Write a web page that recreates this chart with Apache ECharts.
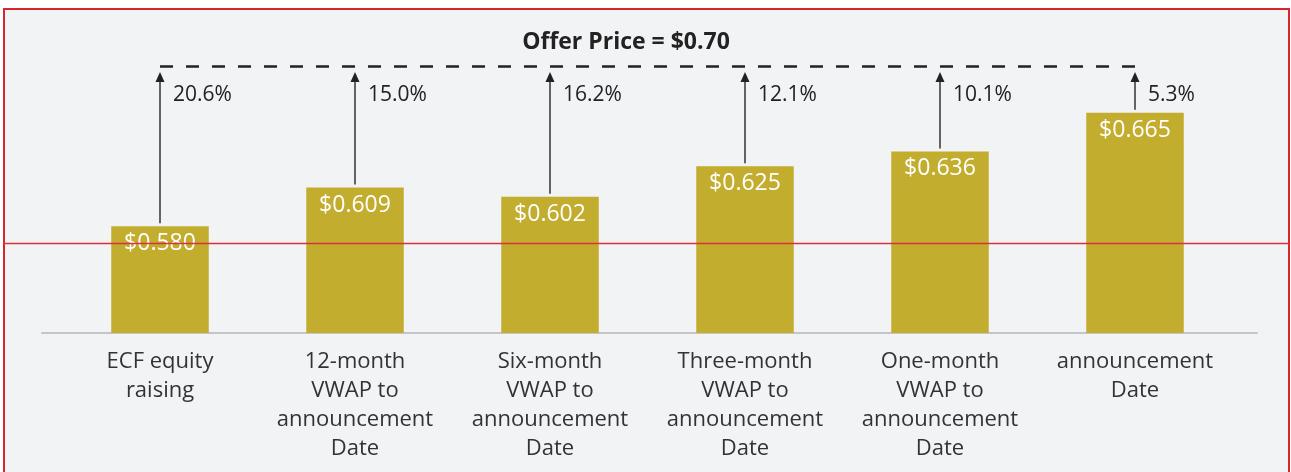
<!DOCTYPE html>
<html>
<head>
<meta charset="utf-8">
<script src="https://cdn.jsdelivr.net/npm/echarts@6/dist/echarts.min.js"></script>
<style>
  body{
    margin: 0;
    background: #fff;
  }
  #frame{
    position: absolute;
    left: 3px;
    top: 8px;
    width: 1287px;
    height: 480px;
    box-sizing: border-box;
    border: 2.5px solid #d8262e;
    background: #f2f3f5;
  }
  #chart{
    position: absolute;
    left: 0;
    top: 0;
    width: 1291px;
    height: 472px;
  }
</style>
</head>
<body>
<div id="frame"></div>
<div id="chart"></div>
<script>
let categories = ['ECF equity\nraising', '12-month\nVWAP to\nannouncement\nDate', 'Six-month\nVWAP to\nannouncement\nDate',
  'Three-month\nVWAP to\nannouncement\nDate', 'One-month\nVWAP to\nannouncement\nDate', 'announcement\nDate']
let prices = [0.580, 0.609, 0.602, 0.625, 0.636, 0.665]
let premiums = ['20.6%', '15.0%', '16.2%', '12.1%', '10.1%', '5.3%']
let offerPrice = 0.70

let font = 'Open Sans'
let myChart = echarts.init(document.getElementById('chart'))

let arrowData = prices.map((v, i) => [i, v, premiums[i]])

let option = {
  title: {
    text: 'Offer Price = $' + offerPrice.toFixed(2),
    left: 621,
    top: 26,
    textAlign: 'center',
    textStyle: {
      fontFamily: font,
      fontWeight: 'bold',
      fontSize: 23,
      color: '#222'
    }
  },
  grid: [
    {left: 62.5, right: 58.5, top: 66, bottom: 139},
    {left: 42, right: 34, top: 66, bottom: 139}
  ],
  xAxis: [{
    type: 'category',
    data: categories,
    axisLine: {show: false},
    axisTick: {show: false},
    axisLabel: {
      margin: 14,
      fontFamily: font,
      fontSize: 22,
      lineHeight: 29,
      color: '#333',
      interval: 0
    }
  }, {
    type: 'category',
    gridIndex: 1,
    data: [''],
    axisLine: {lineStyle: {color: '#c4c5c9', width: 2}},
    axisTick: {show: false},
    axisLabel: {show: false}
  }],
  yAxis: [{
    type: 'value',
    min: 0.5,
    max: offerPrice,
    show: false
  }, {
    type: 'value',
    gridIndex: 1,
    min: 0,
    max: 1,
    show: false
  }],
  graphic: [{
    type: 'line',
    shape: {x1: 3, y1: 243.5, x2: 1290, y2: 243.5},
    style: {stroke: '#d8323a', lineWidth: 1.5},
    z: 100
  }],
  series: [{
    type: 'bar',
    data: prices,
    barWidth: '50%',
    itemStyle: {color: '#c3ad2f'},
    label: {
      show: true,
      position: 'insideTop',
      distance: 6,
      formatter: p => '$' + p.value.toFixed(3),
      fontFamily: font,
      fontSize: 23,
      color: '#fff'
    },
    markLine: {
      silent: true,
      symbol: 'none',
      label: {show: false},
      lineStyle: {color: '#222', type: [13, 13], width: 2.5},
      data: [[{coord: [0, offerPrice]}, {coord: [prices.length - 1, offerPrice]}]]
    }
  }, {
    type: 'custom',
    data: arrowData,
    z: 5,
    renderItem: function (params, api) {
      let bottom = api.coord([api.value(0), api.value(1)])
      let top = api.coord([api.value(0), offerPrice])
      let x = bottom[0]
      let tip = top[1] + 6
      return {
        type: 'group',
        children: [{
          type: 'line',
          shape: {x1: x, y1: bottom[1] - 3, x2: x, y2: tip + 8},
          style: {stroke: '#333', lineWidth: 1.5}
        }, {
          type: 'polygon',
          shape: {points: [[x, tip], [x - 4.5, tip + 10], [x + 4.5, tip + 10]]},
          style: {fill: '#222'}
        }, {
          type: 'text',
          style: {
            x: x + 13,
            y: top[1] + 29,
            text: arrowData[params.dataIndex][2],
            verticalAlign: 'middle',
            fontFamily: font,
            fontSize: 21,
            fill: '#222'
          }
        }]
      }
    }
  }]
}

myChart.setOption(option)
</script>
</body>
</html>
